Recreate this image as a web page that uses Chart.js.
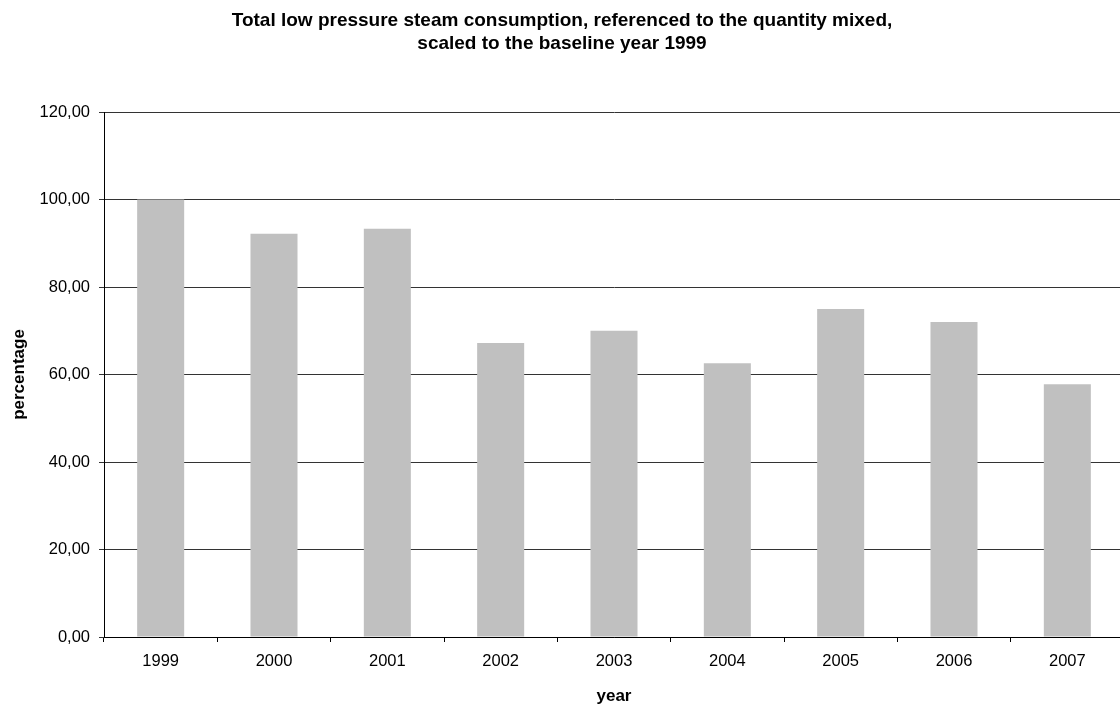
<!DOCTYPE html>
<html>
<head>
<meta charset="utf-8">
<script src="https://cdn.jsdelivr.net/npm/chart.js@4/dist/chart.umd.min.js"></script>
<style>
  html, body { margin: 0; padding: 0; background: #fff; overflow: hidden; }
  #wrap { width: 1124px; height: 708px; }
</style>
</head>
<body>
<div id="wrap"><canvas id="steamChart" width="1124" height="708"></canvas></div>
<script>
// data
const years = ['1999', '2000', '2001', '2002', '2003', '2004', '2005', '2006', '2007'];
const percentages = [100.0, 92.2, 93.3, 67.2, 70.0, 62.6, 75.0, 72.0, 57.8];
const yTickValues = [0, 20, 40, 60, 80, 100, 120];

const titleLines = [
	'Total low pressure steam consumption, referenced to the quantity mixed,',
	'scaled to the baseline year 1999'
];

const fontFamily = '"Liberation Sans", Arial, Helvetica, sans-serif';

const el = document.getElementById('steamChart');
const ctx = el.getContext('2d');

new Chart(ctx, {
	type: 'bar',
	data: {
		labels: years,
		datasets: [{
			label: 'percentage',
			data: percentages,
			backgroundColor: '#c0c0c0',
			borderWidth: 0,
			categoryPercentage: 1.0,
			barPercentage: 0.415,
		}]
	},
	options: {
		responsive: false,
		animation: false,
		layout: { padding: 0 },
		plugins: {
			legend: { display: false },
			tooltip: { enabled: false },
			title: {
				display: true,
				text: titleLines,
				color: '#000',
				font: { family: fontFamily, size: 19, weight: 'bold', lineHeight: 23 / 19 },
				padding: { top: 9, bottom: 57 }
			}
		},
		scales: {
			x: {
				offset: true,
				grid: {
					offset: true,
					drawOnChartArea: false,
					drawTicks: true,
					tickLength: 5,
					color: '#000'
				},
				border: { display: true, color: '#000', width: 1 },
				ticks: {
					color: '#000',
					padding: 10,
					font: { family: fontFamily, size: 16.5 }
				},
				title: {
					display: true,
					text: 'year',
					color: '#000',
					font: { family: fontFamily, size: 17, weight: 'bold', lineHeight: 1.2 },
					padding: { top: 0, bottom: 1 }
				},
				afterFit: (scale) => { scale.height = 71; }
			},
			y: {
				min: 0,
				max: 120,
				afterBuildTicks: (scale) => {
					scale.ticks = yTickValues.map(v => ({ value: v }));
				},
				grid: {
					color: '#333',
					lineWidth: 1,
					drawTicks: true,
					tickLength: 5
				},
				border: { display: true, color: '#000', width: 1 },
				ticks: {
					color: '#000',
					padding: 9,
					font: { family: fontFamily, size: 16.5 },
					callback: (v) => Number(v).toFixed(2).replace('.', ',')
				},
				title: {
					display: true,
					text: 'percentage',
					color: '#000',
					font: { family: fontFamily, size: 17, weight: 'bold', lineHeight: 1.2 },
					padding: { top: 9, bottom: 0 }
				},
				afterFit: (scale) => { scale.width = 104; }
			}
		}
	}
});
</script>
</body>
</html>
